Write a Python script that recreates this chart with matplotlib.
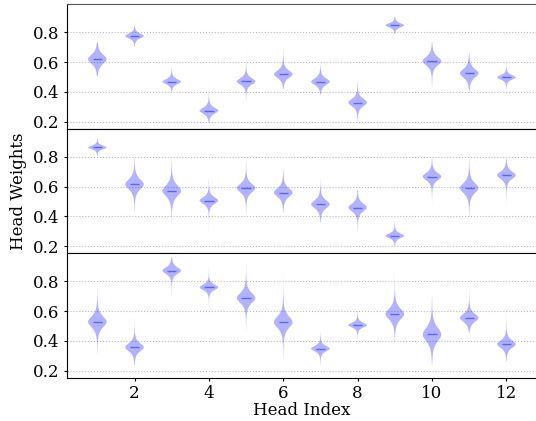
import numpy as np
import matplotlib.pyplot as plt

plt.rcParams['font.family'] = 'DejaVu Serif'

heads = list(range(1, 13))

# per panel: median, tail low, tail high, core spread
median_1 = [0.619, 0.775, 0.468, 0.273, 0.470, 0.518, 0.468, 0.328, 0.847, 0.606, 0.524, 0.497]
low_1 = [0.504, 0.703, 0.395, 0.194, 0.341, 0.420, 0.382, 0.201, 0.789, 0.427, 0.398, 0.414]
high_1 = [0.730, 0.843, 0.556, 0.454, 0.669, 0.685, 0.583, 0.481, 0.902, 0.737, 0.662, 0.594]
spread_1 = [0.060, 0.031, 0.032, 0.039, 0.042, 0.048, 0.042, 0.048, 0.026, 0.056, 0.056, 0.029]

median_2 = [0.863, 0.615, 0.572, 0.506, 0.590, 0.560, 0.481, 0.459, 0.269, 0.667, 0.590, 0.676]
low_2 = [0.800, 0.425, 0.350, 0.294, 0.407, 0.425, 0.357, 0.290, 0.200, 0.479, 0.395, 0.486]
high_2 = [0.927, 0.802, 0.802, 0.644, 0.802, 0.723, 0.655, 0.583, 0.384, 0.791, 0.825, 0.786]
spread_2 = [0.023, 0.065, 0.070, 0.043, 0.056, 0.056, 0.052, 0.050, 0.030, 0.048, 0.065, 0.048]

median_3 = [0.528, 0.357, 0.872, 0.760, 0.688, 0.526, 0.348, 0.506, 0.580, 0.443, 0.555, 0.378]
low_3 = [0.317, 0.238, 0.699, 0.575, 0.463, 0.283, 0.231, 0.407, 0.384, 0.245, 0.456, 0.261]
high_3 = [0.755, 0.546, 0.964, 0.890, 0.928, 0.890, 0.461, 0.604, 0.867, 0.699, 0.762, 0.613]
spread_3 = [0.070, 0.052, 0.043, 0.035, 0.065, 0.074, 0.035, 0.030, 0.070, 0.087, 0.052, 0.048]

panels = [
    (median_1, low_1, high_1, spread_1),
    (median_2, low_2, high_2, spread_2),
    (median_3, low_3, high_3, spread_3),
]


def make_stats(med, lo, hi, sp):
    stats = []
    for m, a, b, s in zip(med, lo, hi, sp):
        y = np.linspace(a, b, 200)
        dens = 1.0 / (1.0 + ((y - m) / s) ** 2) ** 2
        stats.append(dict(coords=y, vals=dens, mean=m, median=m, min=a, max=b))
    return stats


fig = plt.figure(figsize=(5.36, 4.21), dpi=100)
left, right, top, bottom = 0.1244, 1.002, 0.9905, 0.103
h = (top - bottom) / 3
axes = []
for i in range(3):
    ax = fig.add_axes([left, top - (i + 1) * h, right - left, h])
    axes.append(ax)

for ax, (med, lo, hi, sp) in zip(axes, panels):
    parts = ax.violin(make_stats(med, lo, hi, sp), positions=heads, widths=0.5,
                      showmeans=False, showextrema=False, showmedians=True)
    for body in parts['bodies']:
        body.set_facecolor('blue')
        body.set_edgecolor('none')
        body.set_alpha(0.3)
    parts['cmedians'].set_color('#5b68ee')
    parts['cmedians'].set_linewidth(1.0)
    ax.set_xlim(0.175, 12.825)
    ax.set_ylim(0.153, 0.99)
    ax.set_yticks([0.2, 0.4, 0.6, 0.8])
    ax.yaxis.grid(True, linestyle=':', color='#bbbbbb', linewidth=0.8)
    ax.set_axisbelow(True)
    ax.tick_params(labelsize=12, length=2.5, pad=3)
    ax.set_xticks(range(2, 13, 2))
    if ax is not axes[-1]:
        ax.tick_params(axis='x', bottom=False, labelbottom=False)

axes[0].spines['top'].set_color('#555555')
axes[1].set_ylabel('Head Weights', fontsize=12)
axes[-1].set_xlabel('Head Index', fontsize=12, labelpad=0)

fig.savefig('out.png', dpi=100)
